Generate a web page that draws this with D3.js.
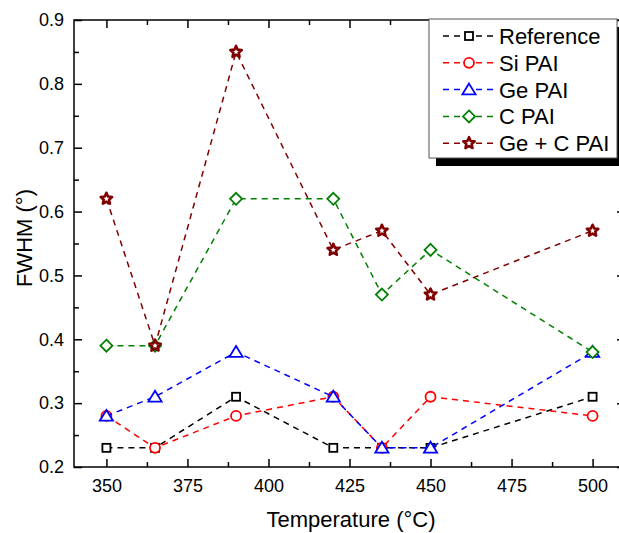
<!DOCTYPE html>
<html><head><meta charset="utf-8">
<script src="https://cdn.jsdelivr.net/npm/d3@7"></script>
<style>html,body{margin:0;padding:0;background:#fff;overflow:hidden;width:619px;height:533px;} svg{display:block;overflow:hidden;font-family:"Liberation Sans",Arial,sans-serif;}</style>
</head><body>
<svg id="c" width="619" height="533" viewBox="0 0 619 533"></svg>
<script>
const temperatures = [350, 365, 390, 420, 435, 450, 500];
const reference = [0.23, 0.23, 0.31, 0.23, 0.23, 0.23, 0.31];
const siPAI     = [0.28, 0.23, 0.28, 0.31, 0.23, 0.31, 0.28];
const gePAI     = [0.28, 0.31, 0.38, 0.31, 0.23, 0.23, 0.38];
const cPAI      = [0.39, 0.39, 0.62, 0.62, 0.47, 0.54, 0.38];
const geCPAI    = [0.62, 0.39, 0.85, 0.54, 0.57, 0.47, 0.57];
const seriesNames = ["Reference", "Si PAI", "Ge PAI", "C PAI", "Ge + C PAI"];
const xTicks = [350, 375, 400, 425, 450, 475, 500];
const yTicks = [0.2, 0.3, 0.4, 0.5, 0.6, 0.7, 0.8, 0.9];

const series = [
  {name: seriesNames[0], values: reference, color: "#000000", shape: "square"},
  {name: seriesNames[1], values: siPAI, color: "#ff0000", shape: "circle"},
  {name: seriesNames[2], values: gePAI, color: "#0000ff", shape: "triangle"},
  {name: seriesNames[3], values: cPAI, color: "#008000", shape: "diamond"},
  {name: seriesNames[4], values: geCPAI, color: "#800000", shape: "star"}
];

const svg = d3.select("#c");
const L = 74, R = 625, T = 20, B = 467;
const x = d3.scaleLinear().domain([340, 510]).range([L, R]);
const y = d3.scaleLinear().domain([0.2, 0.9]).range([B, T]);

// frame
svg.append("rect").attr("x", L).attr("y", T).attr("width", R - L).attr("height", B - T)
  .attr("fill", "none").attr("stroke", "#000").attr("stroke-width", 1.5);

const xMinor = d3.range(337.5, 512, 12.5).filter(v => v > 340 && v < 510 && (v - 350) % 25 !== 0);
const yMinor = d3.range(0.25, 0.9, 0.1);

function tickAxis(g, axis) {
  g.call(axis);
  g.select(".domain").remove();
  g.selectAll(".tick line").attr("stroke", "#000").attr("stroke-width", 1.5);
}
// bottom major
svg.append("g").attr("transform", `translate(0,${B})`)
  .call(g => tickAxis(g, d3.axisBottom(x).tickValues(xTicks).tickSize(-8).tickPadding(12).tickFormat(d3.format("d"))))
  .selectAll("text").attr("font-size", 18).attr("fill", "#000").attr("font-family", "Liberation Sans, Arial, sans-serif");
svg.append("g").attr("transform", `translate(0,${B})`)
  .call(g => tickAxis(g, d3.axisBottom(x).tickValues(xMinor).tickSize(-5).tickFormat("")));
// top
svg.append("g").attr("transform", `translate(0,${T})`)
  .call(g => tickAxis(g, d3.axisTop(x).tickValues(xTicks).tickSize(-8).tickFormat("")));
svg.append("g").attr("transform", `translate(0,${T})`)
  .call(g => tickAxis(g, d3.axisTop(x).tickValues(xMinor).tickSize(-5).tickFormat("")));
// left
svg.append("g").attr("transform", `translate(${L},0)`)
  .call(g => tickAxis(g, d3.axisLeft(y).tickValues(yTicks).tickSize(-8).tickPadding(10).tickFormat(d3.format(".1f"))))
  .selectAll("text").attr("font-size", 18).attr("fill", "#000").attr("font-family", "Liberation Sans, Arial, sans-serif");
svg.append("g").attr("transform", `translate(${L},0)`)
  .call(g => tickAxis(g, d3.axisLeft(y).tickValues(yMinor).tickSize(-5).tickFormat("")));
// right
svg.append("g").attr("transform", `translate(${R},0)`)
  .call(g => tickAxis(g, d3.axisRight(y).tickValues(yTicks).tickSize(-8).tickFormat("")));
svg.append("g").attr("transform", `translate(${R},0)`)
  .call(g => tickAxis(g, d3.axisRight(y).tickValues(yMinor).tickSize(-5).tickFormat("")));

// titles
svg.append("text").attr("x", 351).attr("y", 527).attr("text-anchor", "middle")
  .attr("font-size", 22).text("Temperature (°C)");
svg.append("text").attr("transform", `translate(32,238) rotate(-90)`)
  .attr("text-anchor", "middle").attr("font-size", 22).text("FWHM (°)");

function drawMarker(g, shape, color, cx, cy) {
  const sw = 1.8;
  if (shape === "square") {
    g.append("rect").attr("x", cx - 4).attr("y", cy - 4).attr("width", 8).attr("height", 8)
      .attr("fill", "#fff").attr("stroke", color).attr("stroke-width", sw);
  } else if (shape === "circle") {
    g.append("circle").attr("cx", cx).attr("cy", cy).attr("r", 5)
      .attr("fill", "#fff").attr("stroke", color).attr("stroke-width", sw);
  } else if (shape === "triangle") {
    const s = 6;
    g.append("path").attr("d", `M${cx},${cy - s}L${cx + s * 1.1},${cy + s * 0.8}L${cx - s * 1.1},${cy + s * 0.8}Z`)
      .attr("fill", "#fff").attr("stroke", color).attr("stroke-width", sw);
  } else if (shape === "diamond") {
    const s = 6;
    g.append("path").attr("d", `M${cx},${cy - s}L${cx + s},${cy}L${cx},${cy + s}L${cx - s},${cy}Z`)
      .attr("fill", "#fff").attr("stroke", color).attr("stroke-width", sw);
  } else if (shape === "star") {
    const pts = [];
    for (let i = 0; i < 10; i++) {
      const r = i % 2 === 0 ? 6 : 2.8;
      const a = -Math.PI / 2 + i * Math.PI / 5;
      pts.push([cx + r * Math.cos(a), cy + r * Math.sin(a)]);
    }
    g.append("path").attr("d", "M" + pts.map(p => p.join(",")).join("L") + "Z")
      .attr("fill", "#fff").attr("stroke", color).attr("stroke-width", 2.6).attr("stroke-linejoin", "round");
  }
}

const line = d3.line().x(d => x(d[0])).y(d => y(d[1]));
series.forEach(s => {
  const g = svg.append("g");
  const pts = temperatures.map((t, i) => [t, s.values[i]]);
  g.append("path").attr("d", line(pts)).attr("fill", "none").attr("stroke", s.color)
    .attr("stroke-width", 1.5).attr("stroke-dasharray", "6,5");
  pts.forEach(p => drawMarker(g, s.shape, s.color, x(p[0]), y(p[1])));
});

// legend
const lx = 429, ly = 19, lw = 188, lh = 139;
svg.append("rect").attr("x", lx + 7).attr("y", ly + 8).attr("width", lw).attr("height", lh).attr("fill", "#000");
svg.append("rect").attr("x", lx).attr("y", ly).attr("width", lw).attr("height", lh)
  .attr("fill", "#fff").attr("stroke", "#555").attr("stroke-width", 1);
series.forEach((s, i) => {
  const ry = 36 + i * 26.8;
  const g = svg.append("g");
  g.append("line").attr("x1", 443).attr("x2", 495).attr("y1", ry).attr("y2", ry)
    .attr("stroke", s.color).attr("stroke-width", 1.5).attr("stroke-dasharray", "6,5");
  drawMarker(g, s.shape, s.color, 469, ry);
  g.append("text").attr("x", 499).attr("y", ry + 8).attr("font-size", 22).text(s.name);
});
</script>
</body></html>
